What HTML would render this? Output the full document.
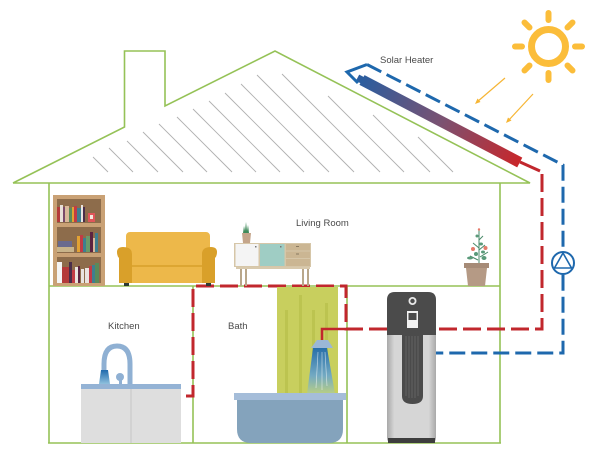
<!DOCTYPE html>
<html><head><meta charset="utf-8"><style>
html,body{margin:0;padding:0;background:#fff;}
svg{display:block;}
text{font-family:"Liberation Sans",sans-serif;fill:#4a4a4a;font-size:9.5px;}
</style></head><body>
<svg width="600" height="470" viewBox="0 0 600 470" xmlns="http://www.w3.org/2000/svg">
<defs>
<linearGradient id="bar" x1="0" y1="0" x2="1" y2="0">
<stop offset="0" stop-color="#2c5d9e"/><stop offset="0.5" stop-color="#7a5272"/><stop offset="1" stop-color="#c8262a"/>
</linearGradient>
<linearGradient id="water" x1="0" y1="0" x2="0" y2="1">
<stop offset="0" stop-color="#1f6aad"/><stop offset="0.6" stop-color="#6fa8c8"/><stop offset="1" stop-color="#b9cf86"/>
</linearGradient>
<linearGradient id="kwater" x1="0" y1="0" x2="0" y2="1">
<stop offset="0" stop-color="#1f6aad"/><stop offset="1" stop-color="#8fc0dd"/>
</linearGradient>
<linearGradient id="tank" x1="0" y1="0" x2="1" y2="0">
<stop offset="0" stop-color="#a9a9a9"/><stop offset="0.15" stop-color="#d6d6d6"/><stop offset="0.85" stop-color="#d6d6d6"/><stop offset="1" stop-color="#a9a9a9"/>
</linearGradient>
</defs>

<!-- roof hatching -->
<g stroke="#b0b0b0" stroke-width="0.9">
<line x1="93" y1="157" x2="108" y2="172"/>
<line x1="109" y1="148" x2="133" y2="172"/>
<line x1="127" y1="141" x2="158" y2="172"/>
<line x1="143" y1="132" x2="183" y2="172"/>
<line x1="159" y1="124" x2="207" y2="172"/>
<line x1="177" y1="117" x2="232" y2="172"/>
<line x1="193" y1="109" x2="256" y2="172"/>
<line x1="209" y1="101" x2="280" y2="172"/>
<line x1="225" y1="93" x2="304" y2="172"/>
<line x1="241" y1="84" x2="329" y2="172"/>
<line x1="257" y1="75" x2="354" y2="172"/>
<line x1="282" y1="74" x2="380" y2="172"/>
<line x1="328" y1="96" x2="404" y2="172"/>
<line x1="373" y1="115" x2="430" y2="172"/>
<line x1="418" y1="137" x2="453" y2="172"/>
</g>

<!-- house outline -->
<g stroke="#95c257" stroke-width="1.6" fill="none">
<polyline points="13,183 124.5,127 124.5,51 165,51 165,106 275,51 530,183 13,183"/>
<line x1="49" y1="183" x2="49" y2="443"/>
<line x1="500" y1="183" x2="500" y2="443"/>
<line x1="49" y1="286" x2="500" y2="286"/>
<line x1="48" y1="443" x2="501" y2="443"/>
<line x1="193" y1="286" x2="193" y2="443"/>
<line x1="347" y1="286" x2="347" y2="443"/>
</g>

<!-- sun -->
<g fill="none" stroke="#fbbd3a">
<circle cx="548.5" cy="46.5" r="17" stroke-width="7"/>
<g stroke-width="6" stroke-linecap="round">
<line x1="548.5" y1="13" x2="548.5" y2="20"/>
<line x1="548.5" y1="73" x2="548.5" y2="80"/>
<line x1="515" y1="46.5" x2="522" y2="46.5"/>
<line x1="575" y1="46.5" x2="582" y2="46.5"/>
<line x1="524.5" y1="22.5" x2="529.5" y2="27.5"/>
<line x1="567.5" y1="65.5" x2="572.5" y2="70.5"/>
<line x1="572.5" y1="22.5" x2="567.5" y2="27.5"/>
<line x1="529.5" y1="65.5" x2="524.5" y2="70.5"/>
</g>
</g>
<!-- sun arrows -->
<g stroke="#f6b534" stroke-width="1.2" fill="#f6b534">
<line x1="505" y1="78" x2="477" y2="102"/>
<polygon points="475,104 477.5,98.5 480.5,102" stroke="none"/>
<line x1="533" y1="94" x2="508" y2="121"/>
<polygon points="506,123 508,117.5 511.5,120.5" stroke="none"/>
</g>

<!-- solar panel -->
<g transform="translate(362,80) rotate(27.6)">
<rect x="-5" y="-3.5" width="6" height="7" fill="#2c5d9e"/>
<rect x="0" y="-5.5" width="178" height="11" fill="url(#bar)"/>
</g>
<text x="380" y="63">Solar Heater</text>

<!-- blue pipe -->
<polyline points="358,83 347,72 367,64.5" fill="none" stroke="#1e68ad" stroke-width="3"/>
<polyline points="367,64.5 563,165 563,353 436,353" fill="none" stroke="#1e68ad" stroke-width="3" stroke-dasharray="16 6"/>
<!-- pump -->
<circle cx="563" cy="263" r="11" fill="#fff" stroke="#1e68ad" stroke-width="2"/>
<polygon points="563,253 554.5,268 571.5,268" fill="none" stroke="#1e68ad" stroke-width="1.6"/>

<!-- red pipe -->
<polyline points="520,162 540,171" fill="none" stroke="#c1272d" stroke-width="3"/>
<polyline points="542,174 542,329 436,329" fill="none" stroke="#c1272d" stroke-width="3" stroke-dasharray="18 6"/>
<polyline points="387,329 346,329 346,286 193,286 193,396 182,396" fill="none" stroke="#c1272d" stroke-width="3" stroke-dasharray="18 6"/>

<!-- living room furniture -->
<!-- bookshelf -->
<rect x="53" y="195" width="52" height="91" fill="#c9a175"/>
<rect x="57" y="199" width="44" height="24" fill="#8d6c4b"/>
<rect x="57" y="227" width="44" height="26" fill="#8d6c4b"/>
<rect x="57" y="257" width="44" height="26" fill="#8d6c4b"/>
<!-- books shelf 1 -->
<rect x="57" y="207" width="3" height="15" fill="#b43a3a"/>
<rect x="60" y="205" width="3" height="17" fill="#e8e0d8"/>
<rect x="63" y="207" width="2" height="15" fill="#7a4a6a"/>
<rect x="65" y="206" width="4" height="16" fill="#d9b99a"/>
<rect x="69" y="208" width="3" height="14" fill="#5a8a5a"/>
<rect x="72" y="207" width="2" height="15" fill="#e2a233"/>
<rect x="74" y="206" width="3" height="16" fill="#c23b45"/>
<rect x="77" y="208" width="4" height="14" fill="#3f7f8f"/>
<rect x="81" y="205" width="2" height="17" fill="#e9e4e0"/>
<rect x="83" y="207" width="2" height="15" fill="#4a2d4a"/>
<rect x="88" y="213" width="7" height="9" fill="#e0555a"/>
<rect x="90" y="215" width="3" height="4" fill="#f4e8dc"/>
<!-- shelf 2 -->
<rect x="58" y="241" width="14" height="6" fill="#6a6a8e"/>
<rect x="57" y="247" width="17" height="5" fill="#c8b38a"/>
<rect x="77" y="236" width="3" height="16" fill="#e2a233"/>
<rect x="80" y="235" width="3" height="17" fill="#c23b45"/>
<rect x="83" y="238" width="3" height="14" fill="#3f7f8f"/>
<rect x="86" y="236" width="4" height="16" fill="#6a9a6a"/>
<rect x="90" y="232" width="3" height="20" fill="#5c2340"/>
<rect x="93" y="238" width="2" height="14" fill="#d9b99a"/>
<rect x="95" y="233" width="3" height="19" fill="#3f7f8f"/>
<!-- shelf 3 -->
<rect x="57" y="262" width="5" height="21" fill="#f4f4f4"/>
<rect x="62" y="267" width="7" height="16" fill="#b43a3a"/>
<rect x="69" y="262" width="3" height="21" fill="#4a2d4a"/>
<rect x="72" y="270" width="3" height="13" fill="#c23b45"/>
<rect x="75" y="267" width="3" height="16" fill="#e9e4e0"/>
<rect x="78" y="266" width="2" height="17" fill="#5c2340"/>
<rect x="81" y="269" width="3" height="14" fill="#e9e4e0"/>
<rect x="85" y="268" width="4" height="15" fill="#e9e4e0"/>
<rect x="89" y="266" width="3" height="17" fill="#c23b45"/>
<rect x="92" y="265" width="3" height="18" fill="#3f7f8f"/>
<rect x="95" y="263" width="4" height="20" fill="#5a8a5a"/>

<!-- sofa -->
<rect x="126" y="232" width="84" height="36" rx="4" fill="#edb84a"/>
<rect x="124" y="259" width="88" height="24" fill="#edb84a"/>
<line x1="126" y1="266" x2="210" y2="266" stroke="#d89f2b" stroke-width="1.5"/>
<path d="M117,252 Q117,247 123,247 Q132,247 132,254 L132,283 L119,283 L119,258 Q117,256 117,252 Z" fill="#d9a02a"/>
<path d="M217,252 Q217,247 211,247 Q202,247 202,254 L202,283 L215,283 L215,258 Q217,256 217,252 Z" fill="#d9a02a"/>
<rect x="124" y="283" width="5" height="3" fill="#2e3a34"/>
<rect x="206" y="283" width="5" height="3" fill="#2e3a34"/>

<!-- sideboard -->
<rect x="240" y="268" width="2" height="18" fill="#b9a78a"/>
<rect x="245" y="268" width="2" height="18" fill="#b9a78a"/>
<rect x="302" y="268" width="2" height="18" fill="#b9a78a"/>
<rect x="307" y="268" width="2" height="18" fill="#b9a78a"/>
<rect x="236" y="266" width="74" height="3" fill="#d8c9ad"/>
<rect x="234" y="243" width="77" height="24" fill="#d6c6a8"/>
<rect x="235.5" y="244" width="23" height="22" fill="#f4f4f4"/>
<rect x="260" y="244" width="24.5" height="22" fill="#9fcdc4"/>
<rect x="286" y="244" width="24" height="6.5" fill="#cbb693"/>
<rect x="286" y="251.5" width="24" height="6.5" fill="#cbb693"/>
<rect x="286" y="259" width="24" height="7" fill="#cbb693"/>
<rect x="296" y="246" width="3" height="1" fill="#8a7a60"/>
<rect x="296" y="253.5" width="3" height="1" fill="#8a7a60"/>
<rect x="255" y="246" width="1.5" height="1.5" fill="#777"/>
<rect x="280" y="246" width="1.5" height="1.5" fill="#777"/>
<!-- small plant -->
<path d="M242,233 L251,233 L250,243 L243,243 Z" fill="#c4a58a"/>
<path d="M243,233 L244,226 L245,231 L246,222 L247,231 L248,225 L249,233 Z" fill="#3f8a5a"/>
<text x="296" y="226">Living Room</text>

<!-- flower pot -->
<g stroke="#4a8a6a" stroke-width="1" fill="none">
<line x1="479" y1="264" x2="479" y2="230"/>
<line x1="479" y1="248" x2="473" y2="243"/>
<line x1="479" y1="250" x2="485" y2="245"/>
<line x1="478" y1="260" x2="470" y2="256"/>
<line x1="480" y1="257" x2="488" y2="252"/>
<line x1="479" y1="240" x2="483" y2="236"/>
</g>
<g fill="#5a9a7a">
<ellipse cx="470" cy="258" rx="3" ry="1.5"/>
<ellipse cx="476" cy="254" rx="2" ry="2"/>
<ellipse cx="484" cy="258" rx="2.5" ry="2"/>
<ellipse cx="481" cy="244" rx="2" ry="1.5"/>
<ellipse cx="477" cy="236" rx="1.5" ry="1.5"/>
<ellipse cx="483" cy="252" rx="2" ry="1.5"/>
</g>
<circle cx="473" cy="249" r="2" fill="#e57a6a"/>
<circle cx="485.5" cy="248" r="2" fill="#e57a6a"/>
<circle cx="479" cy="229.5" r="1.2" fill="#e57a6a"/>
<path d="M464,263 L489,263 L489,268 L487,268 L485,286 L468,286 L466,268 L464,268 Z" fill="#b59a85"/>
<rect x="464" y="263" width="25" height="5" fill="#a68b77"/>

<!-- kitchen -->
<text x="108" y="329">Kitchen</text>
<path d="M104,384 L104,364 Q104,346 117,346 Q130,346 130,364 L130,384" fill="none" stroke="#8fb0d3" stroke-width="5"/>
<path d="M101,370 L108,370 L110,384 L99,384 Z" fill="url(#kwater)"/>
<circle cx="120" cy="377" r="4" fill="#8fb0d3"/>
<rect x="119" y="378" width="3" height="6" fill="#8fb0d3"/>
<rect x="81" y="384" width="100" height="5" fill="#94b3d5"/>
<rect x="81" y="389" width="100" height="54" fill="#dedede"/>
<line x1="131" y1="389" x2="131" y2="443" stroke="#c6c6c6" stroke-width="1"/>

<!-- bath -->
<text x="228" y="329">Bath</text>
<rect x="277" y="287" width="61" height="107" fill="#c8cf5e"/>
<g fill="#bcc450">
<rect x="285" y="310" width="3" height="84"/>
<rect x="299" y="295" width="3" height="99"/>
<rect x="312" y="310" width="3" height="84"/>
<rect x="325" y="303" width="3" height="91"/>
</g>
<polyline points="346,329 322,329 322,340" fill="none" stroke="#c1272d" stroke-width="2.5"/>
<path d="M313,348 L327,348 L335,394 L307,394 Z" fill="url(#water)" opacity="0.95"/>
<g stroke="#ffffff" stroke-width="0.7" opacity="0.6">
<line x1="318" y1="352" x2="316" y2="388"/>
<line x1="322" y1="352" x2="322" y2="390"/>
<line x1="325" y1="352" x2="327" y2="386"/>
</g>
<path d="M317,340 L328,340 L333,348 L311,348 Z" fill="#9bb7d6"/>
<path d="M237,400 L343,400 L343,429 Q343,443 329,443 L251,443 Q237,443 237,429 Z" fill="#84a3bc"/>
<rect x="234" y="393" width="112" height="7" fill="#a5bdd9"/>

<!-- heat pump water heater -->
<path d="M387,300 Q387,292 395,292 L428,292 Q436,292 436,300 L436,438 Q436,443 430,443 L393,443 Q387,443 387,438 Z" fill="url(#tank)"/>
<path d="M387,300 Q387,292 395,292 L428,292 Q436,292 436,300 L436,335 L387,335 Z" fill="#4b4b4b"/>
<path d="M402,292 L423,292 L423,396 Q423,404 412.5,404 Q402,404 402,396 Z" fill="#4b4b4b"/>
<g stroke="#6a6a6a" stroke-width="0.8">
<line x1="406" y1="336" x2="406" y2="396"/>
<line x1="409" y1="336" x2="409" y2="398"/>
<line x1="412" y1="336" x2="412" y2="398"/>
<line x1="415" y1="336" x2="415" y2="398"/>
<line x1="418" y1="336" x2="418" y2="396"/>
</g>
<circle cx="412.5" cy="301" r="4" fill="#e8e8e8"/>
<circle cx="412.5" cy="301" r="2.2" fill="#4b4b4b"/>
<rect x="407" y="311" width="11" height="17" fill="#f2f2f2"/>
<rect x="408.5" y="313" width="8" height="7" fill="#4b4b4b"/>
<rect x="388" y="438" width="47" height="5" fill="#3e3e3e"/>
</svg>
</body></html>
